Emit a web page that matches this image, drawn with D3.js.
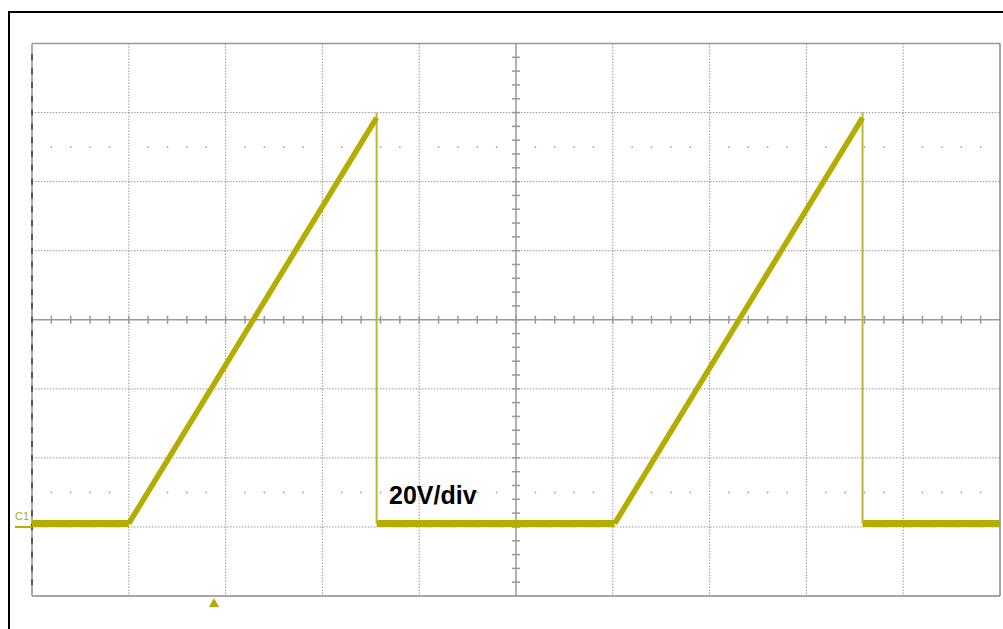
<!DOCTYPE html>
<html>
<head>
<meta charset="utf-8">
<script src="https://cdn.jsdelivr.net/npm/d3@7.9.0/dist/d3.min.js"></script>
<style>
  html, body { margin: 0; padding: 0; background: #fff; }
  svg { display: block; }
</style>
</head>
<body>
<div id="chart"></div>
<script>
// scope screen: 10 x 8 divisions, 20 V/div, ground marker at 0 V
const xDivs = d3.range(0, 11);          // time divisions
const yVolts = d3.range(-20, 141, 20);  // vertical divisions in volts
const baselineVolts = 1;
const peakVolts = 120;

// waveform (time in divisions)
const rampStarts = [1.0, 6.02];
const rampPeaks = [3.56, 8.58];
const baseSegments = [[0, 1.0], [3.56, 6.02], [8.58, 10]];
const dotRowVolts = [110, 10];
const scaleLabel = "20V/div";
const channelLabel = "C1";
const triggerPos = 1.88;

const width = 1003;
const height = 629;
const plot = { left: 32, right: 1000, top: 43.5, bottom: 596 };
const traceColor = "#b3ad00";

const svg = d3
  .select("#chart")
  .append("svg")
  .attr("width", width)
  .attr("height", height);

// outer frame (cut off at right / bottom like the screenshot)
svg
  .append("rect")
  .attr("x", 9)
  .attr("y", 12)
  .attr("width", 1010)
  .attr("height", 640)
  .attr("fill", "none")
  .attr("stroke", "#000")
  .attr("stroke-width", 2);

const x = d3.scaleLinear().domain([0, 10]).range([plot.left, plot.right]);
const y = d3.scaleLinear().domain([-20, 140]).range([plot.bottom, plot.top]);

const grid = svg.append("g").attr("class", "grid");

// dotted graticule
grid
  .selectAll("line.v")
  .data(xDivs.filter((d) => d > 0 && d < 10 && d !== 5))
  .join("line")
  .attr("class", "v")
  .attr("x1", (d) => x(d))
  .attr("x2", (d) => x(d))
  .attr("y1", plot.top)
  .attr("y2", plot.bottom)
  .attr("stroke", "#999")
  .attr("stroke-width", 1)
  .attr("stroke-dasharray", "1.5,1.5");

grid
  .selectAll("line.h")
  .data(yVolts.filter((d) => d > -20 && d < 140 && d !== 60))
  .join("line")
  .attr("class", "h")
  .attr("x1", plot.left)
  .attr("x2", plot.right)
  .attr("y1", (d) => y(d))
  .attr("y2", (d) => y(d))
  .attr("stroke", "#999")
  .attr("stroke-width", 1)
  .attr("stroke-dasharray", "1.5,1.5");

// sparse dot rows
const minorX = d3.range(0, 50).map((i) => i / 5).filter((d) => d % 1 !== 0);
dotRowVolts.forEach((v) => {
  grid
    .append("g")
    .selectAll("rect")
    .data(minorX)
    .join("rect")
    .attr("x", (d) => x(d) - 0.75)
    .attr("y", y(v) - 0.75)
    .attr("width", 1.5)
    .attr("height", 1.5)
    .attr("fill", "#999");
});

// centre axes with minor ticks
grid
  .append("line")
  .attr("x1", x(5))
  .attr("x2", x(5))
  .attr("y1", plot.top)
  .attr("y2", plot.bottom)
  .attr("stroke", "#999")
  .attr("stroke-width", 1.5);
grid
  .append("line")
  .attr("x1", plot.left)
  .attr("x2", plot.right)
  .attr("y1", y(60))
  .attr("y2", y(60))
  .attr("stroke", "#999")
  .attr("stroke-width", 1.5);

const tickX = d3.range(1, 50).map((i) => i / 5);
grid
  .append("g")
  .selectAll("line")
  .data(tickX)
  .join("line")
  .attr("x1", (d) => x(d))
  .attr("x2", (d) => x(d))
  .attr("y1", y(60) - 4)
  .attr("y2", y(60) + 4)
  .attr("stroke", "#999")
  .attr("stroke-width", 1.5);

const tickY = d3.range(1, 40).map((i) => -20 + i * 4);
grid
  .append("g")
  .selectAll("line")
  .data(tickY)
  .join("line")
  .attr("x1", x(5) - 4)
  .attr("x2", x(5) + 4)
  .attr("y1", (d) => y(d))
  .attr("y2", (d) => y(d))
  .attr("stroke", "#999")
  .attr("stroke-width", 1.5);

// frame of the graticule
grid
  .append("line")
  .attr("x1", plot.left)
  .attr("x2", plot.right)
  .attr("y1", plot.top)
  .attr("y2", plot.top)
  .attr("stroke", "#999")
  .attr("stroke-width", 1.5);
grid
  .append("line")
  .attr("x1", plot.left)
  .attr("x2", plot.right)
  .attr("y1", plot.bottom)
  .attr("y2", plot.bottom)
  .attr("stroke", "#888")
  .attr("stroke-width", 1.5);
grid
  .append("line")
  .attr("x1", plot.right)
  .attr("x2", plot.right)
  .attr("y1", plot.top)
  .attr("y2", plot.bottom)
  .attr("stroke", "#888")
  .attr("stroke-width", 1.5);
grid
  .append("line")
  .attr("x1", plot.left)
  .attr("x2", plot.left)
  .attr("y1", plot.top)
  .attr("y2", plot.bottom)
  .attr("stroke", "#aaa")
  .attr("stroke-width", 2);
grid
  .append("g")
  .selectAll("line")
  .data(tickY)
  .join("line")
  .attr("x1", plot.left)
  .attr("x2", plot.left)
  .attr("y1", (d) => y(d) - 3)
  .attr("y2", (d) => y(d) + 3)
  .attr("stroke", "#555")
  .attr("stroke-width", 2);

// trace
const trace = svg.append("g").attr("class", "trace");
const line = d3
  .line()
  .x((d) => x(d[0]))
  .y((d) => y(d[1]));

trace
  .selectAll("path.base")
  .data(baseSegments)
  .join("path")
  .attr("class", "base")
  .attr("d", (d) => line([[d[0], baselineVolts], [d[1], baselineVolts]]))
  .attr("fill", "none")
  .attr("stroke", traceColor)
  .attr("stroke-width", 7);

trace
  .selectAll("path.fall")
  .data(rampPeaks)
  .join("path")
  .attr("class", "fall")
  .attr("d", (d) => line([[d, peakVolts], [d, baselineVolts]]))
  .attr("fill", "none")
  .attr("stroke", "#bcb733")
  .attr("stroke-width", 2);

trace
  .selectAll("path.ramp")
  .data(rampStarts.map((s, i) => [s, rampPeaks[i]]))
  .join("path")
  .attr("class", "ramp")
  .attr("d", (d) => line([[d[0], baselineVolts], [d[1], peakVolts - 1.5]]))
  .attr("fill", "none")
  .attr("stroke", traceColor)
  .attr("stroke-width", 5.5)
  .attr("stroke-linejoin", "round");

// channel ground marker
svg
  .append("line")
  .attr("x1", 15)
  .attr("x2", plot.left)
  .attr("y1", y(0))
  .attr("y2", y(0))
  .attr("stroke", traceColor)
  .attr("stroke-width", 2);
svg
  .append("text")
  .attr("x", 15)
  .attr("y", 520)
  .attr("font-family", "Liberation Sans, Arial, sans-serif")
  .attr("font-size", 11)
  .attr("fill", traceColor)
  .text(channelLabel);

// trigger position marker
const tx = x(triggerPos);
svg
  .append("path")
  .attr("d", `M${tx},${plot.bottom + 2}L${tx + 5},${plot.bottom + 11}L${tx - 5},${plot.bottom + 11}Z`)
  .attr("fill", traceColor);

// scale annotation
svg
  .append("text")
  .attr("x", 389)
  .attr("y", 504)
  .attr("font-family", "Liberation Sans, Arial, sans-serif")
  .attr("font-weight", "bold")
  .attr("font-size", 25)
  .attr("fill", "#000")
  .text(scaleLabel);
</script>
</body>
</html>
